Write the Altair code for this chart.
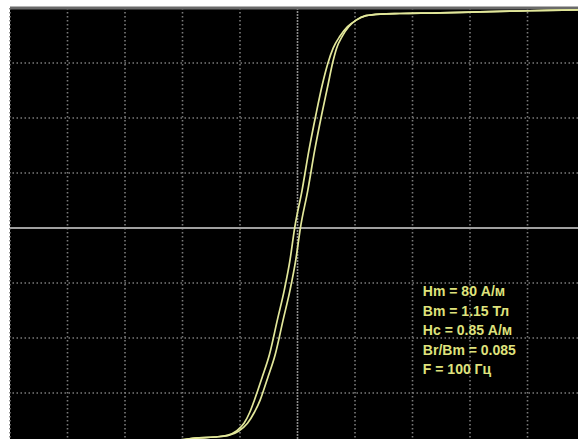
import altair as alt
import pandas as pd

# Oscilloscope screen: 10 x 8 divisions, values in divisions
grid_x = [-5, -4, -3, -2, -1, 1, 2, 3, 4]
grid_y = [-3, -2, -1, 1, 2, 3, 4]

# Magnetic flux density (divisions) shared by both branches
B_vals = [-3.87, -3.85, -3.82, -3.80, -3.77, -3.69, -3.55, -3.35, -3.13, -2.95,
          -2.73, -2.31, -1.67, -1.13, -0.58, 0.0, 0.69, 1.42, 2.06, 2.60,
          3.00, 3.27, 3.49, 3.66, 3.78, 3.86, 3.89, 3.90, 3.91, 3.93, 3.95, 3.97]
# Ascending branch (right) field strength
H_up = [-5.0, -2.04, -1.78, -1.44, -1.20, -1.02, -0.87, -0.75, -0.65, -0.59,
        -0.52, -0.39, -0.25, -0.13, -0.03, 0.05, 0.18, 0.30, 0.42, 0.53,
        0.61, 0.68, 0.78, 0.89, 1.02, 1.19, 1.44, 1.78, 2.48, 3.17, 4.04, 5.0]
# Descending branch (left) field strength
H_down = [-5.0, -2.04, -1.78, -1.44, -1.22, -1.06, -0.93, -0.83, -0.75, -0.69,
          -0.62, -0.49, -0.35, -0.23, -0.13, -0.05, 0.08, 0.20, 0.32, 0.43,
          0.53, 0.62, 0.74, 0.87, 1.02, 1.19, 1.44, 1.78, 2.48, 3.17, 4.04, 5.0]

labels = ["Hm = 80 А/м", "Bm = 1.15 Тл", "Hc = 0.85 А/м", "Br/Bm = 0.085", "F = 100 Гц"]
label_x = [2.18, 2.18, 2.18, 2.18, 2.18]
label_y = [-1.16, -1.53, -1.87, -2.24, -2.58]

XD = [-5, 4.878]
YD = [-3.836, 4]

xs = alt.Scale(domain=XD, nice=False, zero=False)
ys = alt.Scale(domain=YD, nice=False, zero=False)

curve = pd.DataFrame({
    "H": H_up + H_down,
    "B": B_vals + B_vals,
    "branch": ["up"] * len(H_up) + ["down"] * len(H_down),
    "i": list(range(len(H_up))) + list(range(len(H_down))),
})

vgrid = alt.Chart(pd.DataFrame({"x": grid_x})).mark_rule(
    color="#7a7a7a", strokeWidth=1.6, strokeDash=[1.5, 2.5]
).encode(x=alt.X("x:Q", scale=xs, axis=None))

hgrid = alt.Chart(pd.DataFrame({"y": grid_y})).mark_rule(
    color="#7a7a7a", strokeWidth=1.6, strokeDash=[1.5, 2.5]
).encode(y=alt.Y("y:Q", scale=ys, axis=None))

vcenter = alt.Chart(pd.DataFrame({"x": [0]})).mark_rule(
    color="#8c8c8c", strokeWidth=1.6, strokeDash=[2, 1]
).encode(x=alt.X("x:Q", scale=xs, axis=None))

hcenter = alt.Chart(pd.DataFrame({"y": [0]})).mark_rule(
    color="#a0a0a0", strokeWidth=2.2
).encode(y=alt.Y("y:Q", scale=ys, axis=None))

top_edge = alt.Chart(pd.DataFrame({"y": [4]})).mark_rule(
    color="#6a6a6a", strokeWidth=3
).encode(y=alt.Y("y:Q", scale=ys, axis=None))

loop = alt.Chart(curve).mark_line(
    color="#e2e79a", strokeWidth=1.7, clip=True, interpolate="monotone"
).encode(
    x=alt.X("H:Q", scale=xs, axis=None),
    y=alt.Y("B:Q", scale=ys, axis=None),
    detail="branch:N",
    order="i:Q",
)

text = alt.Chart(pd.DataFrame({"t": labels, "x": label_x, "y": label_y})).mark_text(
    align="left", baseline="middle", color="#dfe27c", fontSize=14,
    font="Liberation Sans", fontWeight="bold"
).encode(
    x=alt.X("x:Q", scale=xs, axis=None),
    y=alt.Y("y:Q", scale=ys, axis=None),
    text="t:N",
)

chart = alt.layer(vgrid, hgrid, vcenter, hcenter, top_edge, loop, text).properties(
    width=568, height=431,
    padding={"left": 10, "top": 8, "right": 0, "bottom": 0},
    autosize=alt.AutoSizeParams(type="none"),
    background="white",
).configure_view(fill="black", stroke=None)

chart.save("out.html", embed_options={"renderer": "svg", "actions": False})
